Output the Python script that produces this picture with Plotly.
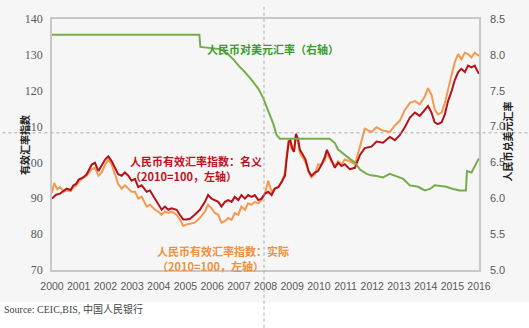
import plotly.graph_objects as go

# ---- data (decimal years) ----
nom_x = [2000.0, 2000.15, 2000.3, 2000.45, 2000.55, 2000.7, 2000.8, 2000.9, 2001.0, 2001.17, 2001.3, 2001.49,
         2001.61, 2001.74, 2001.86, 2001.99, 2002.11, 2002.24, 2002.36, 2002.48, 2002.61, 2002.73, 2002.86,
         2002.98, 2003.11, 2003.23, 2003.36, 2003.55, 2003.67, 2003.86, 2003.98, 2004.11, 2004.23, 2004.36,
         2004.48, 2004.67, 2004.79, 2004.92, 2005.04, 2005.17, 2005.35, 2005.54, 2005.73, 2005.85, 2005.98,
         2006.1, 2006.23, 2006.35, 2006.48, 2006.6, 2006.73, 2006.85, 2006.98, 2007.1, 2007.23, 2007.35,
         2007.48, 2007.6, 2007.73, 2007.85, 2007.98, 2008.1, 2008.23, 2008.35, 2008.48, 2008.6, 2008.73,
         2008.79, 2008.87, 2008.93, 2009.0, 2009.07, 2009.14, 2009.22, 2009.29, 2009.41, 2009.5, 2009.62,
         2009.72, 2009.85, 2009.97, 2010.1, 2010.22, 2010.3, 2010.4, 2010.47, 2010.6, 2010.72, 2010.85,
         2010.97, 2011.16, 2011.35, 2011.54, 2011.72, 2011.97, 2012.16, 2012.4, 2012.66, 2012.85, 2013.03,
         2013.22, 2013.41, 2013.6, 2013.78, 2013.97, 2014.09, 2014.22, 2014.34, 2014.46, 2014.6, 2014.72,
         2014.84, 2014.97, 2015.09, 2015.22, 2015.34, 2015.47, 2015.59, 2015.72, 2015.84, 2015.93, 2016.0]
nom_y = [89.9, 91.0, 91.3, 92.0, 92.7, 92.3, 93.6, 94.0, 95.2, 95.8, 96.7, 99.4,
         99.9, 97.6, 99.0, 100.8, 101.7, 100.3, 98.5, 96.7, 96.3, 97.2, 96.3,
         94.9, 95.4, 93.1, 93.6, 91.8, 92.2, 89.9, 88.6, 86.8, 87.7, 86.8,
         87.2, 86.8, 85.4, 84.1, 84.1, 84.3, 85.4, 86.8, 89.0, 90.9, 89.9,
         89.5, 89.0, 87.7, 89.0, 89.5, 89.0, 90.4, 89.5, 90.9, 89.9, 90.9,
         90.4, 90.9, 89.5, 89.9, 91.3, 91.8, 90.9, 92.7, 93.1, 94.5, 96.3,
         100.8, 105.8, 106.2, 104.0, 103.0, 108.0, 106.5, 103.5, 102.0, 100.8, 97.5,
         96.3, 97.2, 97.6, 99.4, 101.5, 103.5, 101.7, 100.8, 98.5, 99.9, 99.0,
         99.5, 98.1, 98.5, 102.1, 104.0, 104.4, 105.8, 105.5, 107.1, 106.2, 107.6,
         109.8, 112.5, 113.9, 113.0, 114.8, 115.7, 113.9, 111.2, 110.7, 111.2, 113.4,
         117.1, 119.8, 122.9, 125.2, 126.1, 125.2, 127.0, 126.5, 127.0, 125.6, 124.7]

real_x = [2000.0, 2000.08, 2000.2, 2000.3, 2000.45, 2000.55, 2000.7, 2000.8, 2000.9, 2001.0, 2001.17, 2001.3,
          2001.49, 2001.61, 2001.74, 2001.86, 2001.99, 2002.11, 2002.24, 2002.36, 2002.48, 2002.61, 2002.73,
          2002.86, 2002.98, 2003.11, 2003.23, 2003.36, 2003.55, 2003.67, 2003.86, 2003.98, 2004.11, 2004.23,
          2004.36, 2004.48, 2004.67, 2004.79, 2004.92, 2005.04, 2005.17, 2005.35, 2005.54, 2005.73, 2005.85,
          2005.98, 2006.1, 2006.23, 2006.35, 2006.48, 2006.6, 2006.73, 2006.85, 2006.98, 2007.1, 2007.23,
          2007.35, 2007.48, 2007.6, 2007.73, 2007.85, 2007.98, 2008.1, 2008.23, 2008.35, 2008.48, 2008.6,
          2008.73, 2008.79, 2008.87, 2008.93, 2009.0, 2009.07, 2009.14, 2009.22, 2009.29, 2009.41, 2009.5,
          2009.62, 2009.72, 2009.85, 2009.97, 2010.1, 2010.22, 2010.3, 2010.4, 2010.47, 2010.6, 2010.72,
          2010.85, 2010.97, 2011.16, 2011.35, 2011.54, 2011.72, 2011.97, 2012.16, 2012.4, 2012.66, 2012.85,
          2013.03, 2013.22, 2013.41, 2013.6, 2013.78, 2013.97, 2014.09, 2014.22, 2014.34, 2014.46, 2014.6,
          2014.72, 2014.84, 2014.97, 2015.09, 2015.22, 2015.34, 2015.47, 2015.59, 2015.72, 2015.84, 2016.0]
real_y = [91.5, 94.3, 92.5, 93.1, 91.8, 92.2, 92.0, 93.1, 93.5, 94.5, 95.8, 96.3,
          98.1, 98.5, 96.3, 97.2, 99.4, 100.8, 99.4, 96.7, 94.0, 92.7, 93.6,
          92.7, 91.8, 91.8, 89.9, 90.4, 87.7, 88.2, 86.8, 86.3, 85.4, 86.3,
          85.9, 86.3, 85.4, 84.1, 82.3, 82.7, 83.0, 83.2, 84.5, 86.3, 88.2,
          87.2, 85.9, 85.4, 83.2, 83.6, 84.5, 84.0, 85.9, 85.4, 87.7, 86.8,
          88.6, 88.2, 89.0, 88.6, 89.5, 91.3, 94.9, 91.8, 92.7, 93.1, 94.5,
          97.2, 101.7, 106.2, 104.9, 103.5, 103.0, 107.6, 105.5, 102.6, 101.2, 99.9,
          97.2, 95.8, 96.7, 99.4, 99.4, 100.5, 102.6, 101.0, 100.3, 99.0, 100.3,
          99.4, 100.8, 100.3, 99.5, 104.4, 109.4, 108.5, 109.8, 108.9, 108.5, 110.3,
          111.6, 114.6, 116.6, 117.1, 116.2, 118.4, 120.7, 118.9, 114.8, 113.4, 113.9,
          116.6, 120.7, 124.3, 127.9, 130.2, 128.8, 130.6, 130.2, 129.3, 130.6, 129.7]

usd_x = [2000.0, 2005.52, 2005.56, 2005.92, 2006.29, 2006.54, 2006.79, 2007.04, 2007.23, 2007.48, 2007.73,
         2007.91, 2008.1, 2008.29, 2008.42, 2008.54, 2010.4, 2010.47, 2010.6, 2010.72, 2010.97, 2011.16,
         2011.35, 2011.54, 2011.79, 2011.95, 2012.16, 2012.4, 2012.66, 2012.91, 2013.16, 2013.41, 2013.72,
         2013.97, 2014.16, 2014.34, 2014.6, 2014.78, 2015.03, 2015.28, 2015.51, 2015.55, 2015.72, 2015.84,
         2016.0]
usd_y = [8.28, 8.28, 8.11, 8.10, 8.08, 8.03, 7.94, 7.83, 7.76, 7.65, 7.53,
         7.40, 7.22, 7.04, 6.88, 6.83, 6.83, 6.81, 6.77, 6.68, 6.60, 6.55,
         6.50, 6.40, 6.34, 6.32, 6.31, 6.29, 6.34, 6.31, 6.27, 6.18, 6.16,
         6.11, 6.13, 6.18, 6.17, 6.16, 6.13, 6.11, 6.11, 6.38, 6.36, 6.45,
         6.56]

years = list(range(2000, 2017))
left_ticks = [70, 80, 90, 100, 110, 120, 130, 140]
right_ticks = [5.0, 5.5, 6.0, 6.5, 7.0, 7.5, 8.0, 8.5]

C_RED = "#b5121b"
C_ORANGE = "#f29a50"
C_GREEN = "#76ad4c"
CJK = "Noto Sans CJK SC"

fig = go.Figure()
fig.add_trace(go.Scatter(x=real_x, y=real_y, mode="lines", line=dict(color=C_ORANGE, width=2), yaxis="y"))
fig.add_trace(go.Scatter(x=nom_x, y=nom_y, mode="lines", line=dict(color=C_RED, width=2), yaxis="y"))
fig.add_trace(go.Scatter(x=usd_x, y=usd_y, mode="lines", line=dict(color=C_GREEN, width=2), yaxis="y2"))

axis_line = "#c8c8c8"
fig.update_layout(
    width=529, height=328,
    margin=dict(l=52, r=50, t=12, b=58),
    paper_bgcolor="#f6f6f6", plot_bgcolor="#f6f6f6",
    showlegend=False,
    xaxis=dict(range=[2000, 2016], tickvals=years, ticktext=[str(y) for y in years],
               showgrid=False, zeroline=False, showline=True, linecolor=axis_line, linewidth=1.5,
               mirror=True, ticks="", ticklabelstandoff=6,
               tickfont=dict(family="Liberation Sans", size=10.5, color="#595959")),
    yaxis=dict(range=[70, 140], tickvals=left_ticks, showgrid=False, zeroline=False,
               showline=True, linecolor=axis_line, linewidth=1.5, ticks="", ticklabelstandoff=5,
               tickfont=dict(family="Liberation Serif", size=12, color="#595959")),
    yaxis2=dict(range=[5.0, 8.5], tickvals=right_ticks, ticktext=[f"{v:.1f}" for v in right_ticks],
                overlaying="y", side="right", showgrid=False, zeroline=False,
                showline=True, linecolor=axis_line, linewidth=1.5, ticks="", ticklabelstandoff=7,
                tickfont=dict(family="Liberation Sans", size=11, color="#595959")),
)

# white band at bottom of image
fig.add_shape(type="rect", xref="paper", yref="paper", x0=-0.2, x1=1.2, y0=-0.3, y1=-0.128,
              fillcolor="white", line=dict(width=0), layer="below")
# crosshair dotted lines
fig.add_shape(type="line", xref="paper", yref="paper", x0=0.4965, x1=0.4965, y0=-0.23, y1=1.05,
              line=dict(color="#aaaaaa", width=1, dash="dot"))
fig.add_shape(type="line", xref="paper", yref="paper", x0=-0.13, x1=1.12, y0=0.5465, y1=0.5465,
              line=dict(color="#aaaaaa", width=1, dash="dot"))

fig.add_annotation(x=2008.28, y=131.6, xref="x", yref="y", text="<b>人民币对美元汇率（右轴）</b>",
                   showarrow=False, font=dict(family=CJK, size=11, color="#3a9b2e"))
# nominal label (two lines)
fig.add_annotation(x=2002.85, y=100.4, xref="x", yref="y", xanchor="left",
                   text="<b>人民币有效汇率指数：名义</b>",
                   showarrow=False, font=dict(family=CJK, size=11, color="#c0121e"))
fig.add_annotation(x=2002.85, y=96.3, xref="x", yref="y", xanchor="left",
                   text="<b>（2010=100，左轴）</b>",
                   showarrow=False, font=dict(family=CJK, size=11, color="#c0121e"))
# real label (two lines)
fig.add_annotation(x=2003.86, y=75.3, xref="x", yref="y", xanchor="left",
                   text="<b>人民币有效汇率指数：实际</b>",
                   showarrow=False, font=dict(family=CJK, size=11, color="#f0913a"))
fig.add_annotation(x=2003.86, y=71.0, xref="x", yref="y", xanchor="left",
                   text="<b>（2010=100，左轴）</b>",
                   showarrow=False, font=dict(family=CJK, size=11, color="#f0913a"))

fig.add_annotation(x=-0.0867, y=0.5, xref="paper", yref="paper", text="<b>有效汇率指数</b>",
                   textangle=-90, showarrow=False, font=dict(family=CJK, size=10, color="#222222"))
fig.add_annotation(x=1.089, y=0.51, xref="paper", yref="paper", text="<b>人民币兑美元汇率</b>",
                   textangle=-90, showarrow=False, font=dict(family=CJK, size=10, color="#222222"))
fig.add_annotation(x=-0.118, y=-0.186, xref="paper", yref="paper", xanchor="left",
                   text="Source: CEIC,BIS, 中国人民银行", showarrow=False,
                   font=dict(family="Liberation Serif, Noto Sans CJK SC", size=10, color="#444444"))

fig.write_html("out.html")
